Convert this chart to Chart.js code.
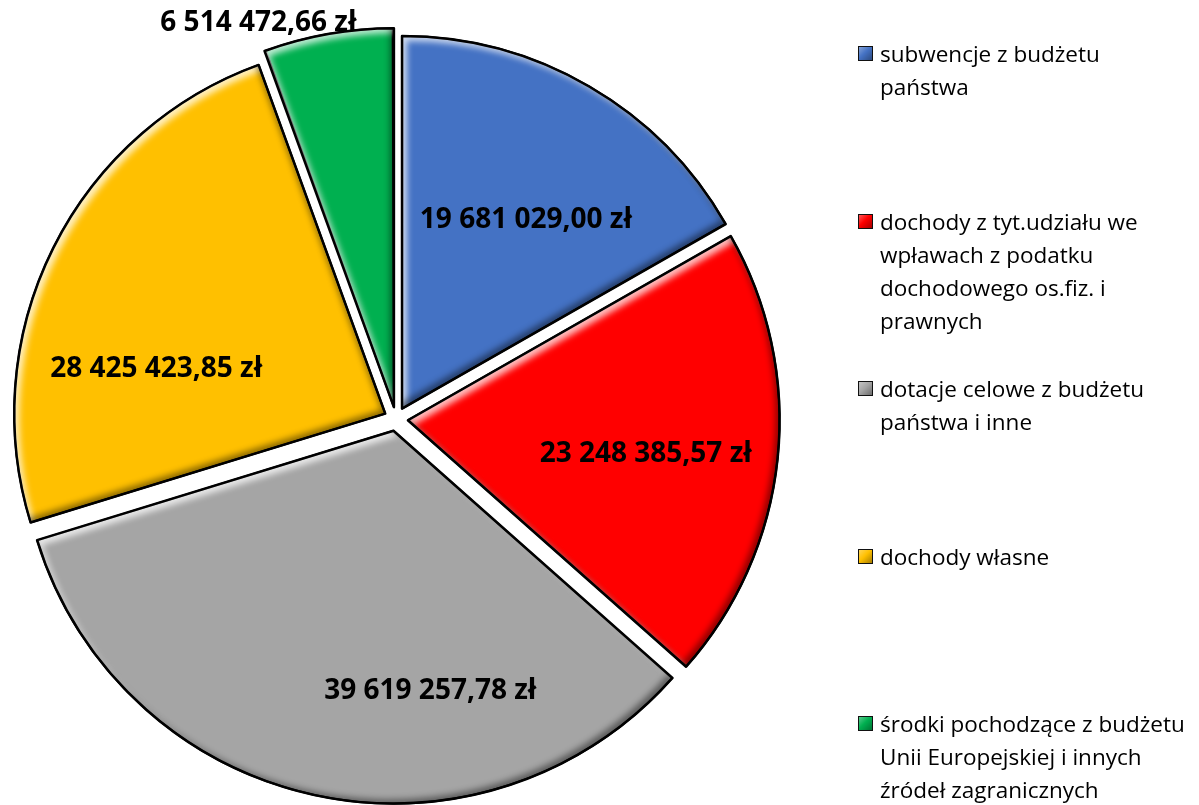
<!DOCTYPE html>
<html lang="pl">
<head>
<meta charset="utf-8">
<title>Dochody</title>
<script src="https://cdn.jsdelivr.net/npm/chart.js@4.4.1/dist/chart.umd.min.js"></script>
<style>
html, body { margin: 0; padding: 0; background: #fff; overflow: hidden; }
#wrap { position: relative; width: 1199px; height: 805px; }
#wrap canvas { position: absolute; left: 0; top: 0; }
#legenda { position: absolute; left: 858px; top: 0; width: 340px; height: 805px;
  font-family: "Open Sans", sans-serif; font-size: 22.5px; line-height: 33px; color: #000; }
.pozycja { position: absolute; left: 0; }
.kwadrat { position: absolute; left: 0; top: 9px; width: 13px; height: 13px; border: 1px solid #111; }
.tekst { position: absolute; left: 22px; top: 0; white-space: nowrap; }
</style>
</head>
<body>
<div id="wrap">
  <canvas id="wykres"></canvas>
  <div id="legenda"></div>
</div>
<script>
// dane
const kategorie = [
    ['subwencje z budżetu', 'państwa'],
    ['dochody z tyt.udziału we', 'wpławach z podatku', 'dochodowego os.fiz. i', 'prawnych'],
    ['dotacje celowe z budżetu', 'państwa i inne'],
    ['dochody własne'],
    ['środki pochodzące z budżetu', 'Unii Europejskiej i innych', 'źródeł zagranicznych']
];
const kwoty = [19681029.00, 23248385.57, 39619257.78, 28425423.85, 6514472.66];
const kolory = ['#4472C4', '#FF0000', '#A5A5A5', '#FFC000', '#00B050'];

// gdzie stoi etykieta: t = ulamek kata wycinka, r = ulamek promienia
const polozenieEtykiet = [
    { t: 0.55, r: 0.64 },
    { t: 0.53, r: 0.68 },
    { t: 0.34, r: 0.74 },
    { t: 0.33, r: 0.66 },
    { t: 0.04, r: 1.13 }
];

function formatZl(v) {
    const [cale, grosze] = v.toFixed(2).split('.');
    return cale.replace(/\B(?=(\d{3})+(?!\d))/g, ' ') + ',' + grosze + ' zł';
}

// srodek i promien wycinka po przesunieciu (tak jak liczy ArcElement)
function geometria(luk) {
    const o = (luk.options.offset || 0) / 4;
    const pol = (luk.startAngle + luk.endAngle) / 2;
    const fix = 1 - Math.sin(Math.min(Math.PI, luk.circumference));
    return {
        x: luk.x + Math.cos(pol) * o,
        y: luk.y + Math.sin(pol) * o,
        r: luk.outerRadius + o * fix
    };
}

function sciezkaLuku(ctx, luk, g) {
    ctx.moveTo(g.x, g.y);
    ctx.arc(g.x, g.y, g.r, luk.startAngle, luk.endAngle);
    ctx.closePath();
}

// efekt fazowania krawedzi
const fazowanie = {
    id: 'fazowanie',
    afterDatasetDraw(chart) {
        const ctx = chart.ctx;
        chart.getDatasetMeta(0).data.forEach(luk => {
            const g = geometria(luk);
            const cienie = [
                { kolor: 'rgba(255,255,255,0.75)', dx: 5, dy: 5 },
                { kolor: 'rgba(0,0,0,0.45)', dx: -4, dy: -4 }
            ];
            cienie.forEach(c => {
                ctx.save();
                ctx.beginPath();
                sciezkaLuku(ctx, luk, g);
                ctx.clip();
                ctx.beginPath();
                ctx.rect(-3000, -3000, 6000, 6000);
                sciezkaLuku(ctx, luk, g);
                ctx.shadowColor = c.kolor;
                ctx.shadowBlur = 6;
                ctx.shadowOffsetX = c.dx;
                ctx.shadowOffsetY = c.dy;
                ctx.fillStyle = '#000';
                ctx.fill('evenodd');
                ctx.restore();
            });
            ctx.save();
            ctx.beginPath();
            sciezkaLuku(ctx, luk, g);
            ctx.lineWidth = 2.5;
            ctx.lineJoin = 'round';
            ctx.strokeStyle = '#000';
            ctx.stroke();
            ctx.restore();
        });
    }
};

const etykietyWycinkow = {
    id: 'etykietyWycinkow',
    afterDraw(chart) {
        const ctx = chart.ctx;
        ctx.save();
        ctx.font = 'bold 28px "Open Sans", sans-serif';
        ctx.fillStyle = '#000';
        ctx.textAlign = 'center';
        ctx.textBaseline = 'middle';
        chart.getDatasetMeta(0).data.forEach((luk, i) => {
            const p = polozenieEtykiet[i];
            const kat = luk.startAngle + (luk.endAngle - luk.startAngle) * p.t;
            const r = luk.outerRadius * p.r;
            ctx.fillText(formatZl(kwoty[i]), luk.x + Math.cos(kat) * r, luk.y + Math.sin(kat) * r);
        });
        ctx.restore();
    }
};

function zbudujLegende() {
    const legenda = document.getElementById('legenda');
    kategorie.forEach((linie, i) => {
        const poz = document.createElement('div');
        poz.className = 'pozycja';
        poz.style.top = (37 + i * 167.5) + 'px';
        const kw = document.createElement('div');
        kw.className = 'kwadrat';
        kw.style.background = 'linear-gradient(135deg, rgba(255,255,255,0.35), rgba(255,255,255,0) 45%, rgba(0,0,0,0.35)), ' + kolory[i];
        const tx = document.createElement('div');
        tx.className = 'tekst';
        tx.innerHTML = linie.join('<br>');
        poz.appendChild(kw);
        poz.appendChild(tx);
        legenda.appendChild(poz);
    });
}

function rysujWykres() {
    const ctx = document.getElementById('wykres');
    new Chart(ctx, {
        type: 'pie',
        data: {
            labels: kategorie,
            datasets: [{
                data: kwoty,
                backgroundColor: kolory,
                borderColor: '#000',
                borderWidth: 2,
                offset: 48
            }]
        },
        options: {
            responsive: true,
            maintainAspectRatio: false,
            animation: false,
            radius: 371,
            layout: { padding: { left: 0, right: 407, top: 33, bottom: 0 } },
            plugins: {
                legend: { display: false },
                tooltip: { enabled: false }
            }
        },
        plugins: [fazowanie, etykietyWycinkow]
    });
}

zbudujLegende();
rysujWykres();
</script>
</body>
</html>
